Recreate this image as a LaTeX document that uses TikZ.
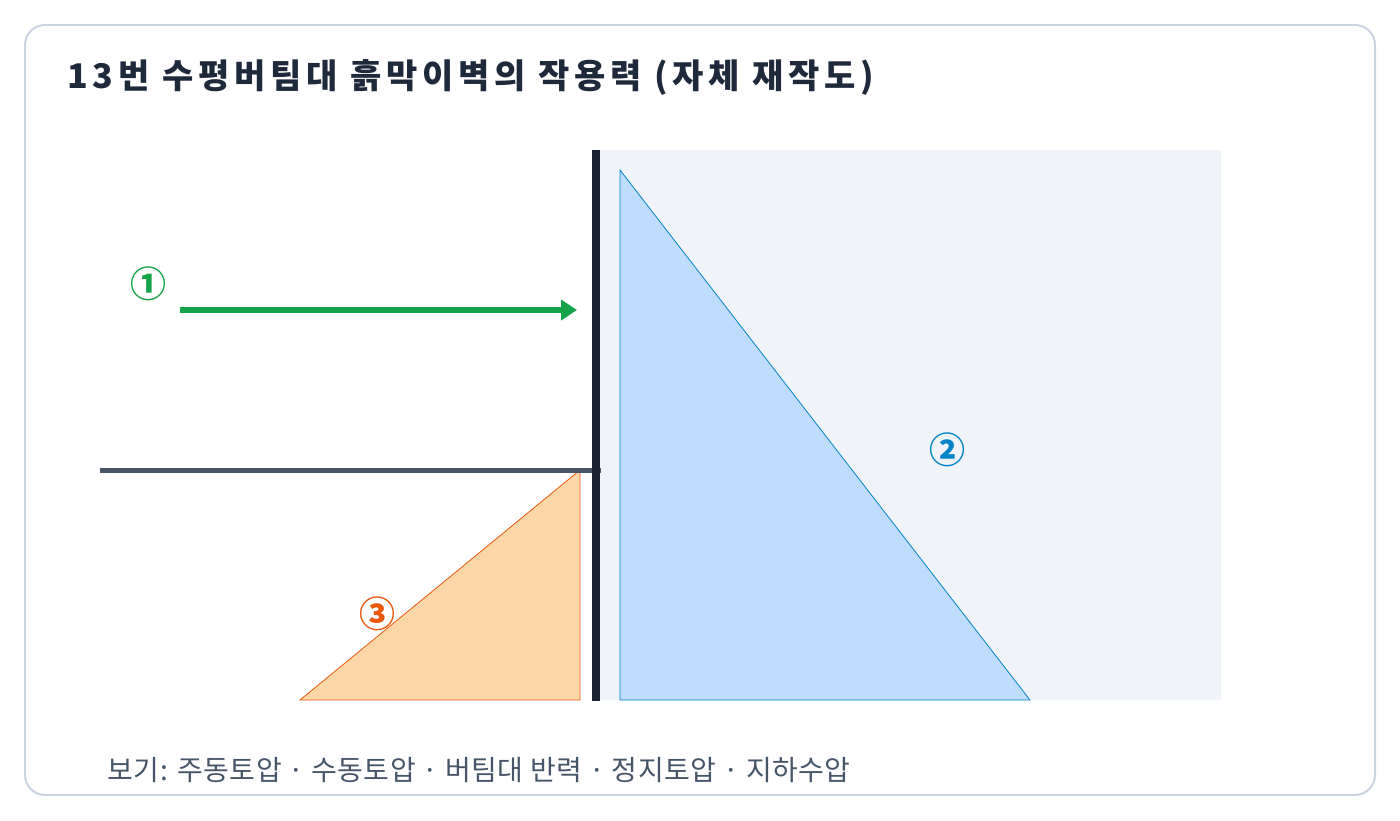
\documentclass[tikz,border=0pt]{standalone}
\usepackage{fontspec}
\setmainfont{Noto Sans CJK KR}
\usepackage{tikz}
\usetikzlibrary{arrows.meta, positioning}

\definecolor{frameline}{HTML}{CBD5E1}
\definecolor{titleink}{HTML}{1E293B}
\definecolor{legendink}{HTML}{475569}
\definecolor{soilback}{HTML}{F0F4F9}
\definecolor{wallink}{HTML}{1A2234}
\definecolor{groundink}{HTML}{475569}
\definecolor{strutgreen}{HTML}{16A34A}
\definecolor{activeblue}{HTML}{0284C7}
\definecolor{activefill}{HTML}{BFDBFE}
\definecolor{passiveorange}{HTML}{EA580C}
\definecolor{passivefill}{HTML}{FDD6A8}

\tikzset{
	mark label/.style={font=\fontsize{36}{36}\selectfont\bfseries, inner sep=0pt},
	load shape/.style={line width=0.8pt, line join=miter},
}

\begin{document}
\begin{tikzpicture}[x=1pt, y=-1pt]
				\useasboundingbox (0, 0) rectangle (1400, 820);
				\draw[frameline, line width=2pt, rounded corners=20pt] (25, 25) rectangle (1375, 795);
				\node[anchor=west, titleink, font=\fontsize{34}{34}\selectfont\bfseries\addfontfeatures{LetterSpace=14}] (title) at (64, 78) {13번 수평버팀대 흙막이벽의 작용력 (자체 재작도)};

				\fill[soilback] (600, 150) rectangle (1221, 700);
				\draw[load shape, activeblue, fill=activefill] (620, 170) -- (620, 700) -- (1030, 700) -- cycle;
				\draw[load shape, passiveorange, fill=passivefill] (580, 470) -- (580, 700) -- (300, 700) -- cycle;

				\coordinate (ground left) at (100, 470);
				\coordinate (ground right) at (601, 470);
				\draw[groundink, line width=5pt] (ground left) -- (ground right);
				\coordinate (wall top) at (596, 150);
				\coordinate (wall toe) at (596, 701);
				\draw[wallink, line width=8pt] (wall top) -- (wall toe);

				\coordinate (strut tail) at (180, 310);
				\coordinate (strut head) at (577, 310);
				\draw[strutgreen, line width=6pt, -{Triangle[length=16pt, width=20pt]}] (strut tail) -- (strut head);

				\node[mark label, strutgreen] (mark one) at (148, 284) {①};
				\node[mark label, activeblue] (mark two) at (947, 450) {②};
				\node[mark label, passiveorange] (mark three) at (377, 614) {③};

				\node[anchor=west, legendink, font=\fontsize{28}{28}\selectfont\addfontfeatures{LetterSpace=2}] (legend) at (104, 770) {보기: 주동토압 · 수동토압 · 버팀대 반력 · 정지토압 · 지하수압};
			\end{tikzpicture}
\end{document}
